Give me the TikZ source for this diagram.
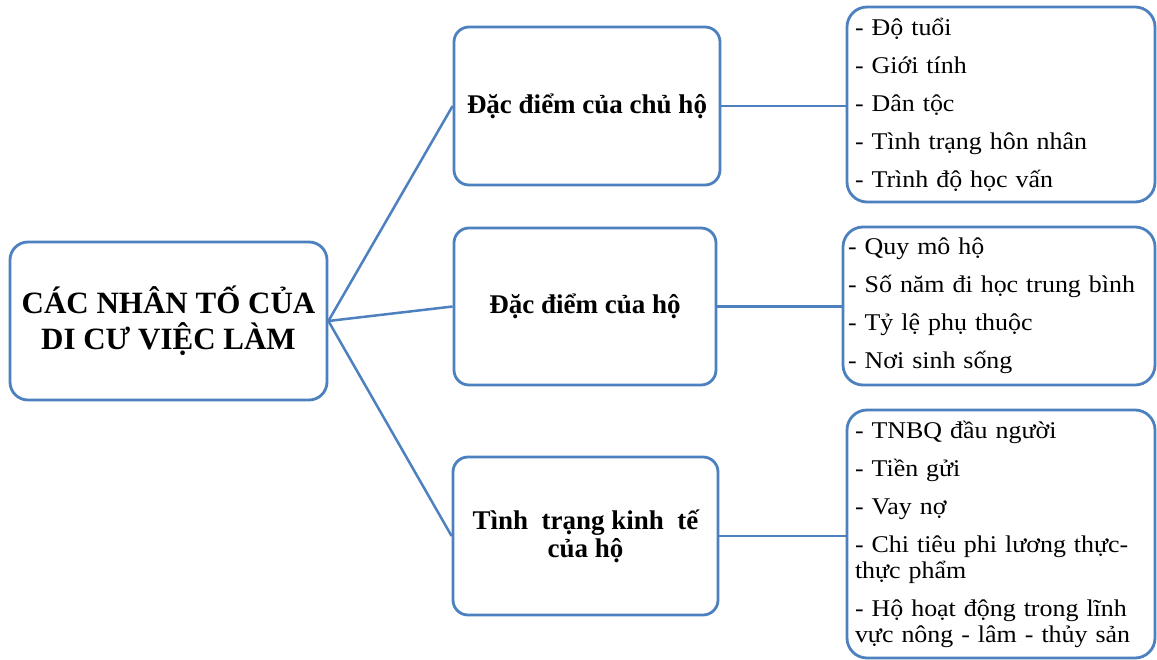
\documentclass[tikz,border=0pt]{standalone}
\usepackage{fontspec}
\setmainfont{Liberation Serif}
\newfontfamily\listfont{Liberation Serif}[FakeStretch=1.08]
\definecolor{boxblue}{RGB}{76,128,190}
\tikzset{
  box/.style={draw=boxblue, line width=2.8pt, rounded corners=18pt, rectangle, fill=white, inner sep=0pt},
  rootbox/.style={box, font=\fontsize{31}{36}\selectfont\bfseries, align=center},
  midbox/.style={box, rounded corners=15pt, font=\fontsize{27}{28}\selectfont\bfseries, align=center},
  listbox/.style={box, rounded corners=20pt, font=\listfont\fontsize{24}{26}\selectfont, align=left, inner xsep=8pt},
  link/.style={draw=boxblue, line width=2.5pt}
}
\begin{document}
\begin{tikzpicture}[x=1pt,y=-1pt]
\useasboundingbox (0,0) rectangle (1157,660);
\node[rootbox, minimum width=317pt, minimum height=158pt] (root) at (168.5,321) {CÁC NHÂN TỐ CỦA\\DI CƯ VIỆC LÀM};
\node[midbox, minimum width=266pt, minimum height=158pt] (b1) at (587,106) {Đặc điểm của chủ hộ};
\node[midbox, minimum width=262pt, minimum height=157pt] (b2) at (585,306.5) {Đặc điểm của hộ};
\node[midbox, minimum width=265pt, minimum height=158pt] (b3) at (585.5,536) {Tình\ \ trạng kinh\ \ tế\\của hộ};
\node[listbox, minimum width=308pt, minimum height=195pt, text width=292pt] (r1) at (1001,104.5) {- Độ tuổi\\[12pt]- Giới tính\\[12pt]- Dân tộc\\[12pt]- Tình trạng hôn nhân\\[12pt]- Trình độ học vấn};
\node[listbox, inner xsep=5pt, minimum width=312pt, minimum height=158pt, text width=302pt] (r2) at (999,306) {- Quy mô hộ\\[12pt]- Số năm đi học trung bình\\[12pt]- Tỷ lệ phụ thuộc\\[12pt]- Nơi sinh sống};
\node[listbox, minimum width=308pt, minimum height=248pt, text width=292pt] (r3) at (1001,534) {- TNBQ đầu người\\[12pt]- Tiền gửi\\[12pt]- Vay nợ\\[12pt]- Chi tiêu phi lương thực-\\thực phẩm\\[12pt]- Hộ hoạt động trong lĩnh\\vực nông - lâm - thủy sản};
\draw[link] (root.east) -- (b1.west);
\draw[link] (root.east) -- (b2.west);
\draw[link] (root.east) -- (b3.west);
\draw[link] (b1.east) -- (b1.east -| r1.west);
\draw[link] (b2.east) -- (b2.east -| r2.west);
\draw[link] (b3.east) -- (b3.east -| r3.west);
\end{tikzpicture}
\end{document}
